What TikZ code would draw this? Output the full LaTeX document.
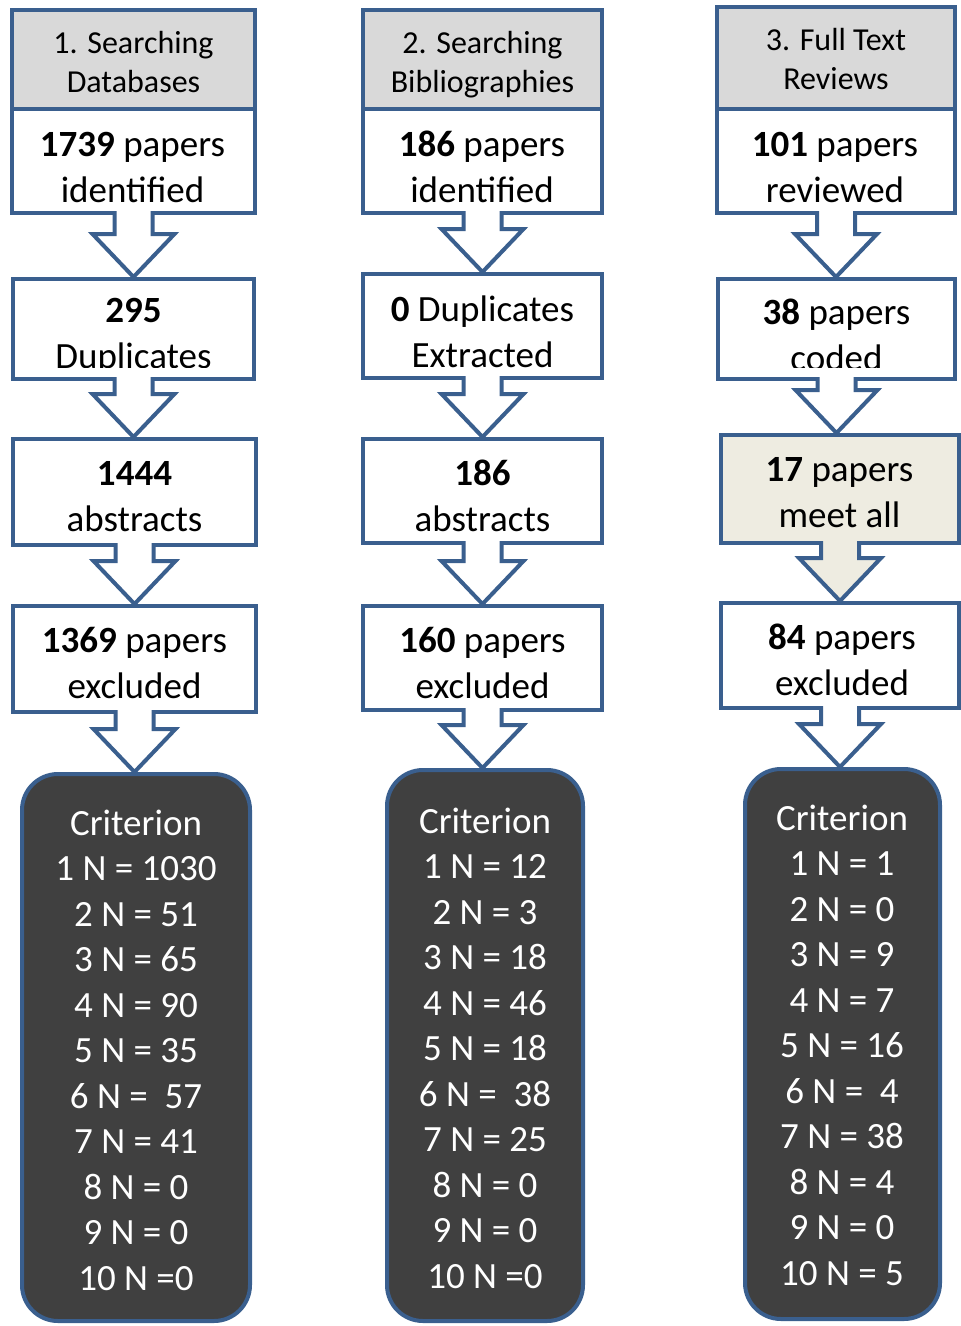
\documentclass[tikz,border=0pt]{standalone}
\usepackage{fontspec}
\setmainfont{Carlito}
\usetikzlibrary{calc}

\definecolor{flowblue}{HTML}{3A5F8E}
\definecolor{headgray}{HTML}{D9D9D9}
\definecolor{paperbeige}{HTML}{EEECE1}
\definecolor{critdark}{HTML}{404040}

% block arrow from the bottom of one box to the top of the next
\newcommand{\flowarrow}[3][white]{%
  \path (#2.south |- #3.north) coordinate (tip);
  \filldraw[downarrow, fill=#1]
    ($(#2.south)+(-19,-2)$) -- ($(tip)+(-19,-45)$) -- ($(tip)+(-41,-45)$)
    -- ($(tip)+(0,-2)$) -- ($(tip)+(41,-45)$) -- ($(tip)+(19,-45)$)
    -- ($(#2.south)+(19,-2)$);
}

\begin{document}
\begin{tikzpicture}[x=1pt,y=-1pt]
  \tikzset{
    box/.style={draw=flowblue, line width=4pt, fill=white, inner sep=0pt, outer sep=0pt},
    headbox/.style={box, fill=headgray},
    critbox/.style={box, fill=critdark, rounded corners=36pt},
    downarrow/.style={draw=flowblue, line width=4pt},
    txt/.style={align=center, anchor=base, inner sep=0pt, font=\fontsize{37}{45.5}\selectfont},
    headtxt/.style={txt, font=\fontsize{32}{38.5}\selectfont},
    crittxt/.style={txt, text=white}
  }
  \useasboundingbox (0,0) rectangle (961,1326);

  % ==========================================
  % COLUMN 1: databases
  % (text nodes sit on the baseline of their last line)
  % ==========================================
  \node[headbox, minimum width=243pt, minimum height=98.5pt] (dbHead) at (133.5, 59.25) {};
  \node[box, minimum width=243pt, minimum height=104.5pt] (dbFound) at (133.5, 160.75) {};
  \node[box, minimum width=241pt, minimum height=100pt] (dbDup) at (133.5, 329) {};
  \node[box, minimum width=243pt, minimum height=106pt] (dbAbs) at (134.5, 492) {};
  \node[box, minimum width=243pt, minimum height=106pt] (dbExcl) at (134.5, 659) {};
  \node[critbox, minimum width=228pt, minimum height=547pt] (dbCrit) at (136, 1047.5) {};

  \node[headtxt] (dbHeadTxt) at (133.5, 92) {1. Searching\\Databases};
  \node[txt] (dbFoundTxt) at (132.5, 202) {\textbf{1739} papers\\identified};
  \begin{scope}
    \clip (13, 279) rectangle (254, 367);
    \node[txt] (dbDupTxt) at (133.5, 368) {\textbf{295}\\Duplicates};
  \end{scope}
  \node[txt] (dbAbsTxt) at (134.5, 531) {\textbf{1444}\\abstracts};
  \node[txt] (dbExclTxt) at (134.5, 698) {\textbf{1369} papers\\excluded};
  \node[crittxt] (dbCritTxt) at (136, 1290) {Criterion\\1 N = 1030\\2 N = 51\\3 N = 65\\4 N = 90\\5 N = 35\\6 N =~ 57\\7 N = 41\\8 N = 0\\9 N = 0\\10 N =0};

  \flowarrow{dbFound}{dbDup}
  \flowarrow{dbDup}{dbAbs}
  \flowarrow{dbAbs}{dbExcl}
  \flowarrow{dbExcl}{dbCrit}

  % ==========================================
  % COLUMN 2: bibliographies
  % ==========================================
  \node[headbox, minimum width=239pt, minimum height=98.5pt] (biHead) at (482.5, 59.25) {};
  \node[box, minimum width=239pt, minimum height=104.5pt] (biFound) at (482.5, 160.75) {};
  \node[box, minimum width=239pt, minimum height=104pt] (biDup) at (482.5, 326) {};
  \node[box, minimum width=239pt, minimum height=104pt] (biAbs) at (482.5, 491) {};
  \node[box, minimum width=239pt, minimum height=104pt] (biExcl) at (482.5, 658) {};
  \node[critbox, minimum width=196pt, minimum height=551pt] (biCrit) at (485, 1045.5) {};

  \node[headtxt] (biHeadTxt) at (482.5, 92) {2. Searching\\Bibliographies};
  \node[txt] (biFoundTxt) at (482, 202) {\textbf{186} papers\\identified};
  \node[txt] (biDupTxt) at (482.5, 367) {\textbf{0} Duplicates\\Extracted};
  \node[txt] (biAbsTxt) at (482.5, 531) {\textbf{186}\\abstracts};
  \node[txt] (biExclTxt) at (482.5, 698) {\textbf{160} papers\\excluded};
  \node[crittxt] (biCritTxt) at (485, 1288) {Criterion\\1 N = 12\\2 N = 3\\3 N = 18\\4 N = 46\\5 N = 18\\6 N =~ 38\\7 N = 25\\8 N = 0\\9 N = 0\\10 N =0};

  \flowarrow{biFound}{biDup}
  \flowarrow{biDup}{biAbs}
  \flowarrow{biAbs}{biExcl}
  \flowarrow{biExcl}{biCrit}

  % ==========================================
  % COLUMN 3: full text reviews
  % ==========================================
  \node[headbox, minimum width=238pt, minimum height=101.5pt] (ftHead) at (836, 57.75) {};
  \node[box, minimum width=238pt, minimum height=104.5pt] (ftRead) at (836, 160.75) {};
  \node[box, minimum width=237pt, minimum height=100pt] (ftCoded) at (836.5, 329) {};
  \node[box, fill=paperbeige, minimum width=238pt, minimum height=108pt] (ftMeet) at (840, 489) {};
  \node[box, minimum width=238pt, minimum height=105pt] (ftExcl) at (840, 655.5) {};
  \node[critbox, minimum width=195pt, minimum height=550pt] (ftCrit) at (842.5, 1044) {};

  \node[headtxt] (ftHeadTxt) at (836, 89) {3. Full Text\\Reviews};
  \node[txt] (ftReadTxt) at (835, 202) {\textbf{101} papers\\reviewed};
  \begin{scope}
    \clip (718, 279) rectangle (955, 367);
    \node[txt] (ftCodedTxt) at (836.5, 370) {\textbf{38} papers\\coded};
  \end{scope}
  \node[txt] (ftMeetTxt) at (839.5, 527) {\textbf{17} papers\\meet all};
  \node[txt] (ftExclTxt) at (842, 695) {\textbf{84} papers\\excluded};
  \node[crittxt] (ftCritTxt) at (842, 1285) {Criterion\\1 N = 1\\2 N = 0\\3 N = 9\\4 N = 7\\5 N = 16\\6 N =~ 4\\7 N = 38\\8 N = 4\\9 N = 0\\10 N = 5};

  \flowarrow{ftRead}{ftCoded}
  \flowarrow{ftCoded}{ftMeet}
  \flowarrow[paperbeige]{ftMeet}{ftExcl}
  \flowarrow{ftExcl}{ftCrit}

\end{tikzpicture}
\end{document}
